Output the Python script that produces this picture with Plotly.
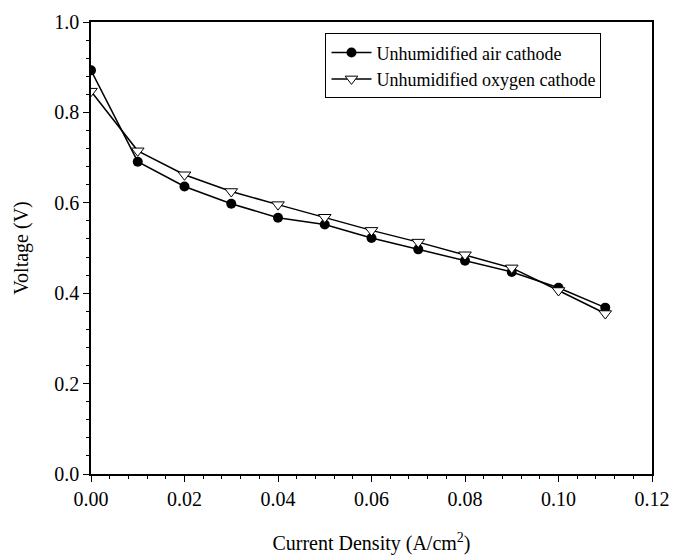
import plotly.graph_objects as go

current = [0.00, 0.01, 0.02, 0.03, 0.04, 0.05, 0.06, 0.07, 0.08, 0.09, 0.10, 0.11]
air_v = [0.893, 0.691, 0.636, 0.598, 0.567, 0.552, 0.522, 0.497, 0.472, 0.447, 0.412, 0.368]
oxy_v = [0.847, 0.715, 0.662, 0.625, 0.596, 0.568, 0.539, 0.513, 0.485, 0.456, 0.406, 0.355]

font = "Liberation Serif, Times New Roman, serif"

fig = go.Figure()
fig.add_trace(go.Scatter(x=current, y=air_v, mode="lines+markers",
                         name="Unhumidified air cathode",
                         line=dict(color="black", width=1.5),
                         marker=dict(symbol="circle", size=10, color="black")))
fig.add_trace(go.Scatter(x=current, y=oxy_v, mode="lines+markers",
                         name="Unhumidified oxygen cathode",
                         line=dict(color="black", width=1.5),
                         marker=dict(symbol="triangle-down", size=11, color="white",
                                     line=dict(color="black", width=1))))

axis_common = dict(showline=True, linecolor="black", linewidth=1.5, mirror=True,
                   ticks="outside", ticklen=6, tickcolor="black", tickwidth=1,
                   showgrid=False, zeroline=False, automargin=False,
                   tickfont=dict(family=font, size=20, color="black"))

fig.update_xaxes(range=[0, 0.12], dtick=0.02, tickformat=".2f",
                 minor=dict(dtick=0.004, ticks="outside", ticklen=3, tickcolor="black"),
                 title=dict(text="Current Density (A/cm<sup>2</sup>)",
                            font=dict(family=font, size=20, color="black"), standoff=28),
                 **axis_common)
fig.update_yaxes(range=[0, 1.0], dtick=0.2, tickformat=".1f",
                 minor=dict(dtick=0.04, ticks="outside", ticklen=3, tickcolor="black"),
                 title=dict(text="Voltage (V)",
                            font=dict(family=font, size=20, color="black"), standoff=20),
                 **axis_common)

fig.update_layout(width=675, height=555,
                  margin=dict(l=91, r=23, t=22, b=81),
                  paper_bgcolor="white", plot_bgcolor="white",
                  showlegend=True,
                  legend=dict(x=0.418, y=0.975, xanchor="left", yanchor="top",
                              bordercolor="black", borderwidth=1, bgcolor="white",
                              font=dict(family=font, size=18, color="black"),
                              tracegroupgap=0, itemwidth=40))

fig.write_html("out.html", config={"displayModeBar": False},
               post_script="document.body.style.margin='0';document.body.style.overflow='hidden';")
